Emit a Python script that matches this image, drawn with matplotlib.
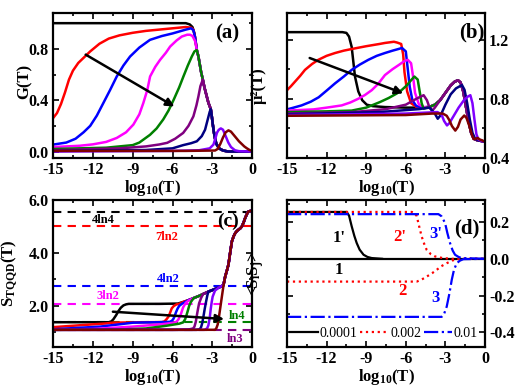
import numpy as np
import matplotlib
matplotlib.use('Agg')
import matplotlib.pyplot as plt
from matplotlib.ticker import MultipleLocator, FormatStrFormatter

plt.rcParams['font.family'] = 'Liberation Serif'
plt.rcParams['font.weight'] = 'bold'
plt.rcParams['axes.labelweight'] = 'bold'
plt.rcParams['mathtext.fontset'] = 'custom'
plt.rcParams['mathtext.rm'] = 'Liberation Serif:bold'
plt.rcParams['mathtext.it'] = 'Liberation Serif:bold'
plt.rcParams['mathtext.bf'] = 'Liberation Serif:bold'
plt.rcParams['axes.unicode_minus'] = False

# colours used for the 9 curves (same order in (a), (b), (c))
colors = ['black', 'red', 'blue', 'magenta', 'green', 'purple', 'navy', '#8000ff', 'maroon']

# ---------------- panel (a): G(T) ----------------
# common descending edge shared by the upper curves
a_env_x = [-4.17, -4.05, -3.95, -3.85, -3.72, -3.6, -3.45, -3.3, -3.12, -3.05, -2.98, -2.9, -2.82, -2.7, -2.5, -2.2, -1.8, 0.0]
a_env_y = [0.79, 0.74, 0.68, 0.62, 0.56, 0.5, 0.44, 0.38, 0.33, 0.28, 0.22, 0.16, 0.11, 0.06, 0.025, 0.008, 0.0, 0.0]

a_black_x = [-15, -5.0, -4.7, -4.5, -4.35]
a_black_y = [1.0, 1.0, 0.99, 0.97, 0.92]
a_red_x = [-15, -14.7, -14.4, -14.1, -13.8, -13.5, -13.1, -12.7, -12.2, -11.5, -10.8, -10.0, -9.0, -8.0, -7.0, -6.0, -5.0, -4.6, -4.43, -4.3]
a_red_y = [0.26, 0.30, 0.37, 0.46, 0.56, 0.63, 0.69, 0.73, 0.78, 0.84, 0.88, 0.905, 0.925, 0.94, 0.95, 0.96, 0.97, 0.965, 0.95, 0.89]
a_blue_x = [-15, -14, -13.3, -12.7, -12.2, -11.7, -11.2, -10.7, -10.2, -9.7, -9.2, -8.5, -7.7, -6.8, -6.0, -5.0, -4.6, -4.43, -4.3]
a_blue_y = [0.054, 0.07, 0.1, 0.15, 0.2, 0.28, 0.38, 0.48, 0.585, 0.67, 0.74, 0.81, 0.87, 0.9, 0.92, 0.95, 0.96, 0.945, 0.89]
a_mag_x = [-15, -13, -12, -11, -10.2, -9.5, -8.95, -8.5, -8.2, -7.9, -7.69, -7.3, -6.94, -6.5, -6.18, -5.7, -5.3, -4.9, -4.68, -4.5, -4.3]
a_mag_y = [0.035, 0.045, 0.056, 0.075, 0.106, 0.15, 0.21, 0.29, 0.378, 0.48, 0.585, 0.66, 0.714, 0.77, 0.818, 0.865, 0.896, 0.91, 0.91, 0.9, 0.86]
a_green_x = [-15, -11, -9, -8.5, -7.7, -7.2, -6.7, -6.3, -5.93, -5.5, -5.18, -4.85, -4.55, -4.35]
a_green_y = [0.02, 0.03, 0.05, 0.07, 0.13, 0.18, 0.25, 0.32, 0.40, 0.5, 0.585, 0.67, 0.74, 0.78]
a_purple_x = [-15, -10, -8, -7, -6.4, -5.8, -5.2, -4.8, -4.43, -4.2, -4.05, -3.9]
a_purple_y = [0.01, 0.025, 0.04, 0.055, 0.068, 0.1, 0.145, 0.2, 0.274, 0.36, 0.43, 0.51]
a_navy_x = [-15, -8, -6, -5.2, -4.6, -4.17, -3.8, -3.55, -3.35, -3.2]
a_navy_y = [0.005, 0.012, 0.025, 0.05, 0.065, 0.08, 0.12, 0.17, 0.25, 0.31]
a_violet_x = [-15, -6, -4, -3.2, -2.92, -2.78, -2.66, -2.55, -2.45, -2.36, -2.2, -2.0, -1.8, -1.6, -1.3, -1.0, 0.0]
a_violet_y = [0.0, 0.005, 0.01, 0.025, 0.054, 0.1, 0.145, 0.165, 0.175, 0.18, 0.17, 0.12, 0.07, 0.035, 0.01, 0.003, 0.0]
a_maroon_x = [-15, -5, -2.8, -2.6, -2.4, -2.2, -2.0, -1.79, -1.6, -1.4, -1.2, -1.0, -0.8, -0.6, -0.4, -0.2, 0.0]
a_maroon_y = [0.005, 0.005, 0.008, 0.02, 0.06, 0.11, 0.15, 0.165, 0.155, 0.13, 0.105, 0.08, 0.06, 0.04, 0.025, 0.012, 0.005]

# ---------------- panel (b): mu^2(T) ----------------
b_bump_x = [-4.2, -3.8, -3.4, -3.0, -2.6, -2.3, -2.05, -1.85, -1.65, -1.45, -1.25, -1.05, -0.85, -0.6, -0.3, 0.0]
b_bump_y = [0.745, 0.76, 0.79, 0.84, 0.89, 0.915, 0.925, 0.91, 0.85, 0.75, 0.65, 0.57, 0.53, 0.52, 0.515, 0.51]

b_black_x = [-15, -10.8, -10.5, -10.3, -10.1, -9.85, -9.6, -9.3, -8.96, -8.5, -7.58, -6.0, -5.0, -4.5]
b_black_y = [1.25, 1.25, 1.245, 1.22, 1.15, 0.95, 0.85, 0.79, 0.76, 0.75, 0.744, 0.74, 0.74, 0.742]
b_red_x = [-15, -14.7, -14.4, -14.0, -13.64, -13.1, -12.63, -12.0, -11.36, -10.7, -10.1, -9.0, -8.0, -7.58, -6.9, -6.67, -6.35, -6.2, -6.1, -5.9, -5.6, -5.2, -4.7]
b_red_y = [0.858, 0.885, 0.915, 0.955, 0.995, 1.035, 1.063, 1.09, 1.109, 1.125, 1.136, 1.155, 1.17, 1.177, 1.185, 1.18, 1.17, 1.1, 0.98, 0.85, 0.77, 0.745, 0.74]
b_blue_x = [-15, -14.5, -13.9, -13.2, -12.6, -12.0, -11.36, -10.7, -10.1, -9.5, -8.84, -8.2, -7.58, -7.0, -6.6, -6.29, -6.0, -5.85, -5.7, -5.5, -5.2, -4.7]
b_blue_y = [0.728, 0.74, 0.755, 0.78, 0.81, 0.855, 0.904, 0.95, 0.995, 1.03, 1.063, 1.09, 1.109, 1.125, 1.135, 1.143, 1.12, 1.0, 0.88, 0.79, 0.75, 0.742]
b_mag_x = [-15, -13, -12, -10.86, -10.2, -9.6, -9.1, -8.58, -8.1, -7.58, -7.0, -6.5, -6.1, -5.85, -5.6, -5.45, -5.3, -5.0, -4.6]
b_mag_y = [0.72, 0.728, 0.74, 0.755, 0.775, 0.80, 0.825, 0.858, 0.9, 0.96, 1.0, 1.03, 1.055, 1.063, 1.04, 0.95, 0.84, 0.76, 0.743]
b_green_x = [-15, -12, -10.1, -9.0, -7.95, -7.3, -6.69, -6.3, -5.93, -5.6, -5.35, -5.1, -4.95, -4.8, -4.65, -4.4]
b_green_y = [0.71, 0.715, 0.72, 0.74, 0.778, 0.805, 0.835, 0.86, 0.89, 0.925, 0.95, 0.93, 0.85, 0.77, 0.733, 0.74]
b_purple_x = [-15, -10, -7.5, -6, -5.2, -4.65, -4.4, -4.2, -4.0, -3.8]
b_purple_y = [0.70, 0.71, 0.73, 0.76, 0.80, 0.824, 0.79, 0.74, 0.72, 0.74]
b_navy_x = [-15, -8, -5, -4.2, -3.8, -3.58, -3.35, -3.0, -2.6, -2.2, -1.9, -1.74, -1.55, -1.35, -1.15, -0.95, -0.75, -0.5, -0.25, 0.0]
b_navy_y = [0.695, 0.71, 0.73, 0.74, 0.70, 0.665, 0.69, 0.76, 0.83, 0.87, 0.885, 0.892, 0.86, 0.77, 0.66, 0.57, 0.53, 0.52, 0.515, 0.51]
b_violet_x = [-15, -6, -3.6, -3.3, -3.1, -2.88, -2.7, -2.4, -2.0, -1.6, -1.3, -1.11, -0.95, -0.8, -0.65, -0.5, -0.25, 0.0]
b_violet_y = [0.69, 0.70, 0.71, 0.695, 0.65, 0.62, 0.635, 0.68, 0.74, 0.79, 0.815, 0.824, 0.77, 0.66, 0.56, 0.525, 0.515, 0.51]
b_maroon_x = [-15, -6, -4, -3.2, -2.9, -2.7, -2.5, -2.25, -2.05, -1.85, -1.57, -1.4, -1.2, -1.0, -0.86, -0.7, -0.55, -0.4, -0.25, 0.0]
b_maroon_y = [0.685, 0.69, 0.70, 0.70, 0.685, 0.655, 0.615, 0.585, 0.61, 0.66, 0.687, 0.67, 0.62, 0.56, 0.528, 0.53, 0.535, 0.525, 0.52, 0.51]

# ---------------- panel (c): S_TQQD(T) ----------------
c_levels = [5.55, 5.0, 2.77, 2.08, 1.386, 1.0986]
c_level_names = ['4ln4', '7ln2', '4ln2', '3ln2', 'ln4', 'ln3']
c_level_colors = ['black', 'red', 'blue', 'magenta', 'green', 'purple']

c_env_x = [-5.2, -4.8, -4.4, -4.0, -3.7, -3.3, -2.9, -2.5, -2.17]
c_env_y = [2.15, 2.22, 2.3, 2.38, 2.45, 2.54, 2.62, 2.7, 2.78]
c_up_x = [-2.17, -2.04, -1.9, -1.79, -1.65, -1.53, -1.4, -1.28, -1.15, -1.03, -0.9, -0.78, -0.65, -0.53, -0.4, -0.28, 0.0]
c_up_y = [2.78, 3.1, 3.35, 3.56, 4.05, 4.44, 4.63, 4.75, 4.83, 4.88, 4.93, 5.0, 5.15, 5.32, 5.47, 5.57, 5.6]

c_black_x = [-15, -10.8, -10.6, -10.45, -10.25, -10.08, -9.9, -9.7, -9.5, -9.3, -7, -5.6]
c_black_y = [1.386, 1.386, 1.42, 1.5, 1.65, 1.8, 1.93, 2.02, 2.06, 2.079, 2.079, 2.09]
c_red_x = [-15, -13, -11, -10.5, -8, -6.8, -6.6, -6.45, -6.3, -6.18, -6.06, -5.9, -5.7, -5.5]
c_red_y = [1.2, 1.27, 1.34, 1.37, 1.386, 1.39, 1.42, 1.5, 1.6, 1.75, 1.91, 2.0, 2.06, 2.08]
c_blue_x = [-15, -11.46, -8.95, -7, -6.2, -6.05, -5.95, -5.85, -5.75, -5.62, -5.5, -5.3]
c_blue_y = [1.12, 1.22, 1.37, 1.386, 1.4, 1.44, 1.5, 1.6, 1.75, 1.9, 2.0, 2.08]
c_mag_x = [-15, -12, -9, -7, -6, -5.7, -5.55, -5.4, -5.3, -5.2, -5.0, -4.8]
c_mag_y = [1.1, 1.13, 1.22, 1.3, 1.36, 1.4, 1.5, 1.65, 1.8, 1.95, 2.12, 2.2]
c_green_x = [-15, -10, -8, -6.5, -5.5, -5.2, -5.05, -4.95, -4.85, -4.75, -4.65, -4.55]
c_green_y = [1.0986, 1.11, 1.15, 1.25, 1.33, 1.38, 1.5, 1.65, 1.82, 2.0, 2.12, 2.2]
c_purple_x = [-15, -6, -4.8, -4.45, -4.35, -4.25, -4.15, -4.07, -4.0, -3.85]
c_purple_y = [1.0986, 1.0986, 1.11, 1.15, 1.22, 1.4, 1.7, 1.92, 2.1, 2.3]
c_navy_x = [-15, -4.2, -3.95, -3.85, -3.76, -3.67, -3.58, -3.5, -3.38]
c_navy_y = [1.0986, 1.0986, 1.12, 1.2, 1.36, 1.61, 1.88, 2.1, 2.4]
c_violet_x = [-15, -3.6, -3.4, -3.3, -3.2, -3.12, -3.05, -2.98, -2.8]
c_violet_y = [1.0986, 1.0986, 1.15, 1.27, 1.55, 1.9, 2.15, 2.35, 2.58]
c_maroon_x = [-15, -2.8, -2.7, -2.6, -2.5, -2.4, -2.3, -2.17]
c_maroon_y = [1.0986, 1.1, 1.16, 1.3, 1.6, 1.95, 2.3, 2.75]

# ---------------- panel (d): <SiSj> ----------------
d_1_x = [-15, 0]
d_1_y = [0.0, 0.0]
d_1p_x = [-15, -10.48, -10.3, -10.1, -9.9, -9.72, -9.5, -9.2, -8.9, -8.58, -7.8]
d_1p_y = [0.255, 0.255, 0.235, 0.177, 0.125, 0.086, 0.05, 0.022, 0.01, 0.004, 0.0]
d_2_x = [-15, -5.17, -4.8, -4.42, -4.0, -3.66, -3.3, -2.9, -2.5, -2.14, -1.5, 0]
d_2_y = [-0.124, -0.124, -0.113, -0.097, -0.078, -0.06, -0.04, -0.024, -0.01, -0.002, 0.0, 0.0]
d_2p_x = [-15, -5.55, -5.35, -5.17, -5.0, -4.8, -4.6, -4.42, -4.1, -3.79, -3.2, -2.5, 0]
d_2p_y = [0.255, 0.255, 0.25, 0.232, 0.18, 0.122, 0.08, 0.049, 0.025, 0.013, 0.004, 0.0, 0.0]
d_3_x = [-15, -3.28, -3.1, -2.9, -2.7, -2.52, -2.35, -2.14, -1.9, -1.64, 0]
d_3_y = [-0.316, -0.316, -0.3, -0.26, -0.19, -0.115, -0.06, -0.024, -0.01, -0.002, 0.0]
d_3p_x = [-15, -3.53, -3.3, -3.03, -2.85, -2.65, -2.45, -2.27, -2.0, -1.77, 0]
d_3p_y = [0.243, 0.243, 0.232, 0.196, 0.14, 0.086, 0.045, 0.022, 0.01, 0.004, 0.0]
d_legend = ['0.0001', '0.002', '0.01']

fig = plt.figure(figsize=(5.27, 3.91), dpi=100)
ax_a = fig.add_axes([0.1006, 0.596, 0.378, 0.371])
ax_b = fig.add_axes([0.5446, 0.596, 0.3757, 0.371])
ax_c = fig.add_axes([0.1006, 0.1125, 0.378, 0.376])
ax_d = fig.add_axes([0.5446, 0.1125, 0.3757, 0.376])

lw = 1.8

# (a)
a_curves = [
    (a_black_x + a_env_x, a_black_y + a_env_y),
    (a_red_x + a_env_x, a_red_y + a_env_y),
    (a_blue_x + a_env_x, a_blue_y + a_env_y),
    (a_mag_x + a_env_x, a_mag_y + a_env_y),
    (a_green_x + a_env_x, a_green_y + a_env_y),
    (a_purple_x + a_env_x[4:], a_purple_y + a_env_y[4:]),
    (a_navy_x + a_env_x[8:], a_navy_y + a_env_y[8:]),
    (a_violet_x, a_violet_y),
    (a_maroon_x, a_maroon_y),
]
for (x, y), c in zip(a_curves, colors):
    ax_a.plot(x, y, color=c, lw=lw)
ax_a.annotate('', xy=(-5.68, 0.34), xytext=(-12.72, 0.766),
              arrowprops=dict(arrowstyle='-|>', color='k', lw=1.8, mutation_scale=12))
ax_a.text(-1.9, 0.92, '(a)', fontsize=15, ha='center', va='center')
ax_a.set_ylim(-0.05, 1.08)
ax_a.set_ylabel('G(T)', fontsize=12)
ax_a.yaxis.set_major_locator(MultipleLocator(0.4))
ax_a.yaxis.set_minor_locator(MultipleLocator(0.2))

# (b)
b_curves = [
    (b_black_x + b_bump_x, b_black_y + b_bump_y),
    (b_red_x + b_bump_x, b_red_y + b_bump_y),
    (b_blue_x + b_bump_x, b_blue_y + b_bump_y),
    (b_mag_x + b_bump_x, b_mag_y + b_bump_y),
    (b_green_x + b_bump_x, b_green_y + b_bump_y),
    (b_purple_x + b_bump_x[2:], b_purple_y + b_bump_y[2:]),
    (b_navy_x, b_navy_y),
    (b_violet_x, b_violet_y),
    (b_maroon_x, b_maroon_y),
]
for (x, y), c in zip(b_curves, colors):
    ax_b.plot(x, y, color=c, lw=lw)
ax_b.annotate('', xy=(-6.0, 0.83), xytext=(-13.48, 1.082),
              arrowprops=dict(arrowstyle='-|>', color='k', lw=1.8, mutation_scale=12))
ax_b.text(-1.0, 1.245, '(b)', fontsize=15, ha='center', va='center')
ax_b.set_ylim(0.4, 1.38)
ax_b.set_ylabel('μ²(T)', fontsize=12)
ax_b.yaxis.set_major_locator(MultipleLocator(0.4))
ax_b.yaxis.set_minor_locator(MultipleLocator(0.2))

# (c)
for lev, col in zip(c_levels, c_level_colors):
    ax_c.axhline(lev, color=col, ls=(0, (4, 3)), lw=1.5)
c_curves = [
    (c_black_x + c_env_x + c_up_x, c_black_y + c_env_y + c_up_y),
    (c_red_x + c_env_x + c_up_x, c_red_y + c_env_y + c_up_y),
    (c_blue_x + c_env_x[1:] + c_up_x, c_blue_y + c_env_y[1:] + c_up_y),
    (c_mag_x + c_env_x[2:] + c_up_x, c_mag_y + c_env_y[2:] + c_up_y),
    (c_green_x + c_env_x[2:] + c_up_x, c_green_y + c_env_y[2:] + c_up_y),
    (c_purple_x + c_env_x[4:] + c_up_x, c_purple_y + c_env_y[4:] + c_up_y),
    (c_navy_x + c_env_x[5:] + c_up_x, c_navy_y + c_env_y[5:] + c_up_y),
    (c_violet_x + c_env_x[7:] + c_up_x, c_violet_y + c_env_y[7:] + c_up_y),
    (c_maroon_x + c_up_x[1:], c_maroon_y + c_up_y[1:]),
]
for (x, y), c in zip(c_curves, colors):
    ax_c.plot(x, y, color=c, lw=lw)
c_label_pos = [(-11.2, 5.25), (-6.43, 4.62), (-6.3, 3.0), (-10.83, 2.38), (-1.16, 1.62), (-1.28, 0.74)]
for (x, y), name, col in zip(c_label_pos, c_level_names, c_level_colors):
    ax_c.text(x, y, name, color=col, fontsize=9, ha='center', va='center')
ax_c.annotate('', xy=(-1.91, 1.5), xytext=(-10.7, 1.79),
              arrowprops=dict(arrowstyle='-|>', color='k', lw=1.8, mutation_scale=12))
ax_c.text(-1.8, 5.18, '(c)', fontsize=14, ha='center', va='center')
ax_c.set_ylim(0.45, 6.0)
ax_c.set_ylabel(r'S$_{\mathrm{TQQD}}$(T)', fontsize=12)
ax_c.yaxis.set_major_locator(MultipleLocator(2.0))
ax_c.yaxis.set_minor_locator(MultipleLocator(1.0))

# (d)
l1, = ax_d.plot(d_1_x, d_1_y, color='black', lw=1.6, ls='-')
ax_d.plot(d_1p_x, d_1p_y, color='black', lw=1.6, ls='-')
l2, = ax_d.plot(d_2_x, d_2_y, color='red', lw=1.6, ls=':')
ax_d.plot(d_2p_x, d_2p_y, color='red', lw=1.6, ls=':')
l3, = ax_d.plot(d_3_x, d_3_y, color='blue', lw=1.6, ls='-.')
ax_d.plot(d_3p_x, d_3p_y, color='blue', lw=1.6, ls='-.')
d_text = [(-11.08, 0.111, "1'", 'black'), (-11.08, -0.059, '1', 'black'),
          (-6.48, 0.117, "2'", 'red'), (-6.29, -0.177, '2', 'red'),
          (-3.76, 0.135, "3'", 'blue'), (-3.76, -0.214, '3', 'blue')]
for x, y, s, col in d_text:
    ax_d.text(x, y, s, color=col, fontsize=12, ha='center', va='center')
ax_d.text(-1.36, 0.166, '(d)', fontsize=15, ha='center', va='center')
ax_d.legend([l1, l2, l3], d_legend, loc='lower center', bbox_to_anchor=(0.49, 0.05),
            ncol=3, frameon=False, handlelength=2.0, handletextpad=0.15,
            columnspacing=0.2, borderpad=0, borderaxespad=0,
            prop={'family': 'Liberation Serif', 'weight': 'normal', 'size': 10})
ax_d.set_ylim(-0.48, 0.32)
ax_d.set_ylabel(r'<S$_{\mathrm{i}}$S$_{\mathrm{j}}$>', fontsize=12)
ax_d.yaxis.set_major_locator(MultipleLocator(0.2))
ax_d.yaxis.set_minor_locator(MultipleLocator(0.1))

for ax in (ax_a, ax_b, ax_c, ax_d):
    ax.set_xlim(-15, 0)
    ax.set_xticks([-15, -12, -9, -6, -3, 0])
    ax.set_xticklabels(['-15', '-12', '-9', '-6', '-3', '0'])
    ax.xaxis.set_minor_locator(MultipleLocator(1.5))
    ax.yaxis.set_major_formatter(FormatStrFormatter('%.1f'))
    ax.set_xlabel(r'log$_{10}$(T)', fontsize=12, labelpad=0)
    ax.tick_params(which='both', direction='in', top=True, right=True, left=True,
                   labelsize=11.5, width=1.2, pad=3)
    ax.tick_params(which='major', length=4)
    ax.tick_params(which='minor', length=2)
    for sp in ax.spines.values():
        sp.set_linewidth(1.6)

for ax in (ax_b, ax_d):
    ax.tick_params(axis='y', which='both', labelleft=False, labelright=True)

ax_a.yaxis.set_label_coords(-0.10, 0.53)
ax_b.yaxis.set_label_coords(-0.10, 0.5)
ax_c.yaxis.set_label_coords(-0.165, 0.5)
ax_d.yaxis.set_label_coords(-0.105, 0.5)

fig.savefig('out.png', dpi=100)
